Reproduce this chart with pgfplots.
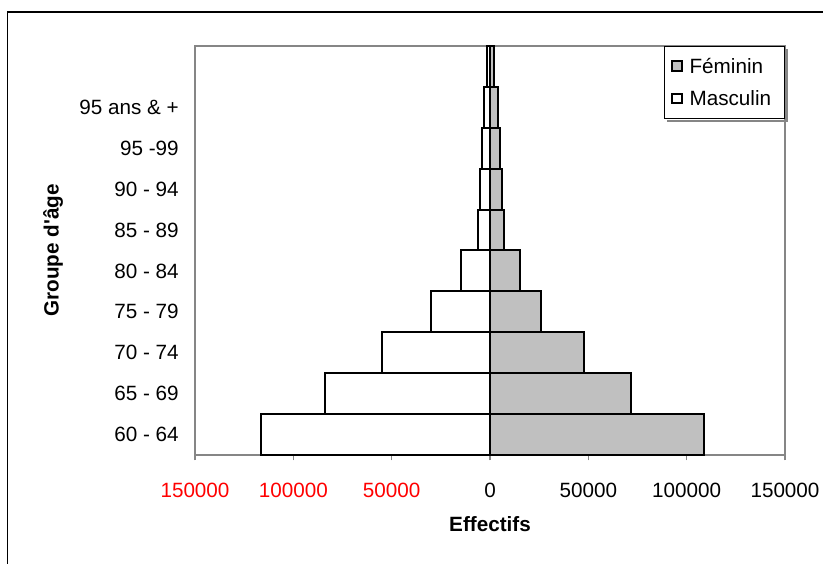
\documentclass[border=0pt]{standalone}
\usepackage{fontspec}
\setmainfont{Liberation Sans}[Ligatures=TeXOff]
\usepackage{pgfplots}
\pgfplotsset{compat=1.18}
\definecolor{fem}{HTML}{C0C0C0}
\definecolor{axgray}{HTML}{868686}
\begin{document}
\fontsize{15.5}{18}\selectfont
\begin{tikzpicture}
\useasboundingbox (0pt,0pt) rectangle (617.25pt,422.25pt);
\draw[line width=0.8pt] (5.6pt,-20pt) -- (5.6pt,413.25pt) -- (640pt,413.25pt);
\begin{axis}[
  at={(146.25pt,81pt)}, anchor=south west,
  scale only axis, width=442.5pt, height=306.75pt,
  xmin=-150000, xmax=150000,
  ymin=-0.5, ymax=9.5,
  scaled x ticks=false,
  axis line style={axgray, line width=1.3pt},
  tick align=outside,
  major tick length=4pt,
  xtick pos=bottom,
  ytick pos=left,
  xtick={-150000,-100000,-50000,0,50000,100000,150000},
  xticklabels={\textcolor{red}{150000},\textcolor{red}{100000},\textcolor{red}{50000},0,50000,100000,150000},
  xtick style={axgray, line width=1.1pt},
  xticklabel style={font=\fontsize{15.5}{18}\selectfont, inner sep=0pt, yshift=-17pt},
  ytick={0,1,2,3,4,5,6,7,8,9},
  yticklabels={60 - 64,65 - 69,70 - 74,75 - 79,80 - 84,85 - 89,90 - 94,95 -99,95 ans \& +,{}},
  ytick style={draw=none},
  yticklabel style={font=\fontsize{15.5}{18}\selectfont, inner sep=0pt, xshift=-8pt},
  xlabel={Effectifs},
  xlabel style={at={(axis description cs:0.5,-0.169)}, anchor=center, font=\bfseries\fontsize{15.5}{18}\selectfont},
  ylabel={Groupe d'âge},
  ylabel style={at={(axis description cs:-0.2407,0.5)}, anchor=center, rotate=0, font=\bfseries\fontsize{15.5}{18}\selectfont},
  legend style={name=leg, at={(axis description cs:1,1)}, anchor=north east, draw=black, line width=0.8pt,
    fill=white, font=\fontsize{15.5}{18}\selectfont, inner xsep=5pt, inner ysep=6.5pt,
    row sep=8pt, nodes={inner xsep=5pt, inner ysep=2pt, text height=11.5pt, text depth=1pt}},
  legend cell align=left,
]
\addplot[xbar, bar width=1, bar shift=0pt, fill=fem, draw=black, line width=1.5pt,
  legend image code/.code={\draw[fill=fem, draw=black, line width=1.5pt] (0pt,-3.4pt) rectangle (7.2pt,3.8pt);}]
  coordinates {(108800,0) (71500,1) (47600,2) (25900,3) (15300,4) (7300,5) (6100,6) (5100,7) (4000,8) (2000,9)};
\addlegendentry{Féminin}
\addplot[xbar, bar width=1, bar shift=0pt, fill=white, draw=black, line width=1.5pt,
  legend image code/.code={\draw[fill=white, draw=black, line width=1.5pt] (0pt,-3.4pt) rectangle (7.2pt,3.8pt);}]
  coordinates {(-116600,0) (-83900,1) (-54800,2) (-30000,3) (-14700,4) (-6300,5) (-5100,6) (-4000,7) (-3000,8) (-1500,9)};
\addlegendentry{Masculin}
\end{axis}
\draw[axgray, line width=1.6pt] ([xshift=2.5pt,yshift=-1.2pt]leg.south west) -- ([xshift=1.2pt,yshift=-1.2pt]leg.south east) -- ([xshift=1.2pt,yshift=-2.5pt]leg.north east);
\end{tikzpicture}
\end{document}
